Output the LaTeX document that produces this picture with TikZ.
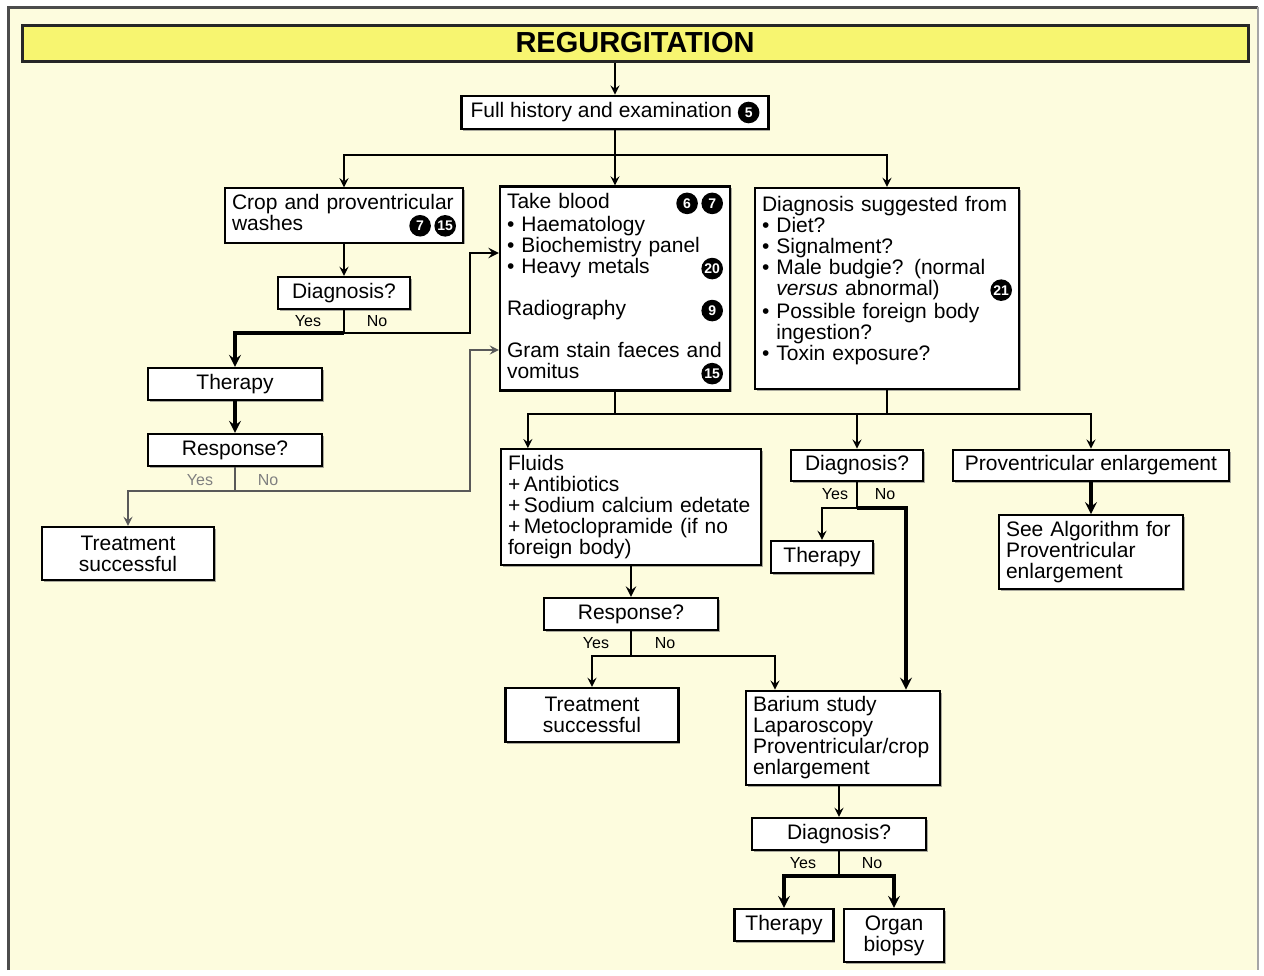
\documentclass[tikz,border=0pt]{standalone}
\usepackage{fontspec}
\setmainfont{Liberation Sans}
\usetikzlibrary{shadows}

\definecolor{panel}{RGB}{253,252,222}
\definecolor{titlebar}{RGB}{247,245,112}

% black disc with a white reference number
\newcommand{\cnum}[1]{\tikz[baseline=(c.base)]\node[circle, fill=black, draw=none, text=white, inner sep=0pt, minimum size=10.8pt, font=\fontsize{7}{7}\bfseries\selectfont] (c) {#1};}

\tikzset{
  box/.style={draw=black, fill=white, line width=1.1pt, inner xsep=3.5pt, inner ysep=3pt,
    font=\fontsize{10.5}{10.5}\selectfont,
    drop shadow={shadow xshift=0.9pt, shadow yshift=-0.9pt, fill=black!55, opacity=0.6}},
  txt/.style={box, align=left},
  yn/.style={font=\fontsize{8}{8}\selectfont, inner sep=1pt},
  link/.style={->, line width=1pt},
  heavy/.style={->, line width=1.6pt},
}

\begin{document}
\begin{tikzpicture}[x=0.5pt, y=-0.5pt, >=stealth, line width=1pt]
  \useasboundingbox (0,0) rectangle (1264,975);
  \fill[panel] (8,7) rectangle (1258,970);
  \draw[black!70, line width=1.5pt] (8,970) -- (8,7) -- (1258,7);
  \draw[black!35, line width=0.6pt] (1258,7) -- (1258,970);

  \node[draw=black!85, fill=titlebar, line width=1.5pt, minimum width=613pt, minimum height=18pt,
    font=\fontsize{14.5}{14.5}\bfseries\selectfont,
    drop shadow={shadow xshift=0.9pt, shadow yshift=-0.9pt, fill=black!55, opacity=0.6}] (title) at (635,43) {REGURGITATION};

  \node[box, minimum width=153.5pt, minimum height=15.5pt] (hist) at (615,112.5) {Full history and examination\ \cnum{5}};

  \node[txt, text width=112pt] (crop) at (344,215.5) {Crop and proventricular\\washes\hfill\cnum{7}\,\cnum{15}};
  \node[txt, text width=108pt] (blood) at (615,288.5) {Take blood\hfill\cnum{6}\,\cnum{7}\\
    \textbullet\ Haematology\\
    \textbullet\ Biochemistry panel\\
    \textbullet\ Heavy metals\hfill\cnum{20}\\
    \mbox{}\\
    Radiography\hfill\cnum{9}\\
    \mbox{}\\
    Gram stain faeces and\\
    vomitus\hfill\cnum{15}};
  \node[txt, text width=125pt, minimum height=100.5pt] (sugg) at (887,288.5) {Diagnosis suggested from\\
    \textbullet\ Diet?\\
    \textbullet\ Signalment?\\
    \textbullet\ Male budgie? (normal\\
    \hphantom{\textbullet\ }\textit{versus} abnormal)\hfill\cnum{21}\\
    \textbullet\ Possible foreign body\\
    \hphantom{\textbullet\ }ingestion?\\
    \textbullet\ Toxin exposure?\\
    \mbox{}};

  \node[box, minimum width=66pt, minimum height=16pt] (diag1) at (344,293) {Diagnosis?};
  \node[box, minimum width=87pt, minimum height=16pt] (ther1) at (235,384) {Therapy};
  \node[box, minimum width=87pt, minimum height=16pt] (resp1) at (235,450) {Response?};
  \node[box, align=center, minimum width=86pt, minimum height=26.5pt] (treat1) at (128,553.5) {Treatment\\successful};

  \node[txt, text width=123pt] (fluids) at (631,507) {Fluids\\
    +\,Antibiotics\\
    +\,Sodium calcium edetate\\
    +\,Metoclopramide (if no\\
    foreign body)};
  \node[box, minimum width=66pt, minimum height=15.5pt] (diag2) at (857,465.5) {Diagnosis?};
  \node[box, minimum width=138pt, minimum height=15.5pt] (prov) at (1091,465.5) {Proventricular enlargement};
  \node[txt, text width=85pt] (seealg) at (1091,552) {See Algorithm for\\Proventricular\\enlargement};
  \node[box, minimum width=51pt, minimum height=16pt] (ther2) at (822,557) {Therapy};

  \node[box, minimum width=87pt, minimum height=16pt] (resp2) at (631,614) {Response?};
  \node[box, align=center, minimum width=86.5pt, minimum height=27pt] (treat2) at (592,715) {Treatment\\successful};
  \node[txt, text width=90pt] (barium) at (843,738) {Barium study\\Laparoscopy\\Proventricular/crop\\enlargement};
  \node[box, minimum width=87pt, minimum height=16pt] (diag3) at (839,834) {Diagnosis?};
  \node[box, minimum width=49.5pt, minimum height=16pt] (ther3) at (784,925) {Therapy};
  \node[box, align=center, minimum width=50pt, minimum height=26.5pt] (organ) at (894,935.5) {Organ\\biopsy};

  \draw[link] (title.south -| hist) -- (hist);
  \coordinate (j1) at (615,155);
  \draw (hist) -- (j1);
  \draw[link] (j1) -| (crop.north);
  \draw[link] (j1) -- (blood.north);
  \draw[link] (j1) -| (sugg.north);

  \draw[link] (crop) -- (diag1);
  \coordinate (j2) at (344,333);
  \coordinate (b1) at (470,253);
  \draw (diag1) -- (j2);
  \draw[heavy] (j2) -| (ther1.north);
  \draw[link, line width=1.3pt] (j2) -| (b1) -- (b1 -| blood.west);
  \draw[heavy] (ther1) -- (resp1);
  \coordinate (j3) at (235,491);
  \coordinate (b2) at (470,350);
  \draw[black!65] (resp1) -- (j3);
  \draw[link, black!65] (j3) -| (treat1.north);
  \draw[link, black!65] (j3) -| (b2) -- (b2 -| blood.west);

  \coordinate (j4) at (615,414);
  \draw (blood) -- (j4);
  \draw (sugg) -- (sugg.south |- j4);
  \draw[link] (j4) -| ([xshift=14pt]fluids.north west);
  \draw[link] (j4) -| (diag2.north);
  \draw[link] (j4) -| (prov.north);

  \coordinate (j5) at (857,508);
  \draw (diag2) -- (j5);
  \draw[link] (j5) -| (ther2.north);
  \draw[heavy] (j5) -| ([xshift=31.5pt]barium.north);
  \draw[heavy] (prov) -- (seealg);

  \draw[link, line width=1.3pt] (fluids) -- (resp2);
  \coordinate (j6) at (631,656);
  \draw (resp2) -- (j6);
  \draw[link] (j6) -| (treat2.north);
  \draw[link] (j6) -| ([xshift=-34pt]barium.north);

  \draw[link] (diag3.north |- barium.south) -- (diag3.north);
  \coordinate (j7) at (839,876);
  \draw (diag3) -- (j7);
  \draw[heavy] (j7) -| (ther3.north);
  \draw[heavy] (j7) -| (organ.north);

  \node[yn] (y1) at (308,321) {Yes};
  \node[yn] (n1) at (377,321) {No};
  \node[yn, text=black!50] (y2) at (200,480) {Yes};
  \node[yn, text=black!50] (n2) at (268,480) {No};
  \node[yn] (y3) at (835,494) {Yes};
  \node[yn] (n3) at (885,494) {No};
  \node[yn] (y4) at (596,643) {Yes};
  \node[yn] (n4) at (665,643) {No};
  \node[yn] (y5) at (803,863) {Yes};
  \node[yn] (n5) at (872,863) {No};
\end{tikzpicture}
\end{document}
